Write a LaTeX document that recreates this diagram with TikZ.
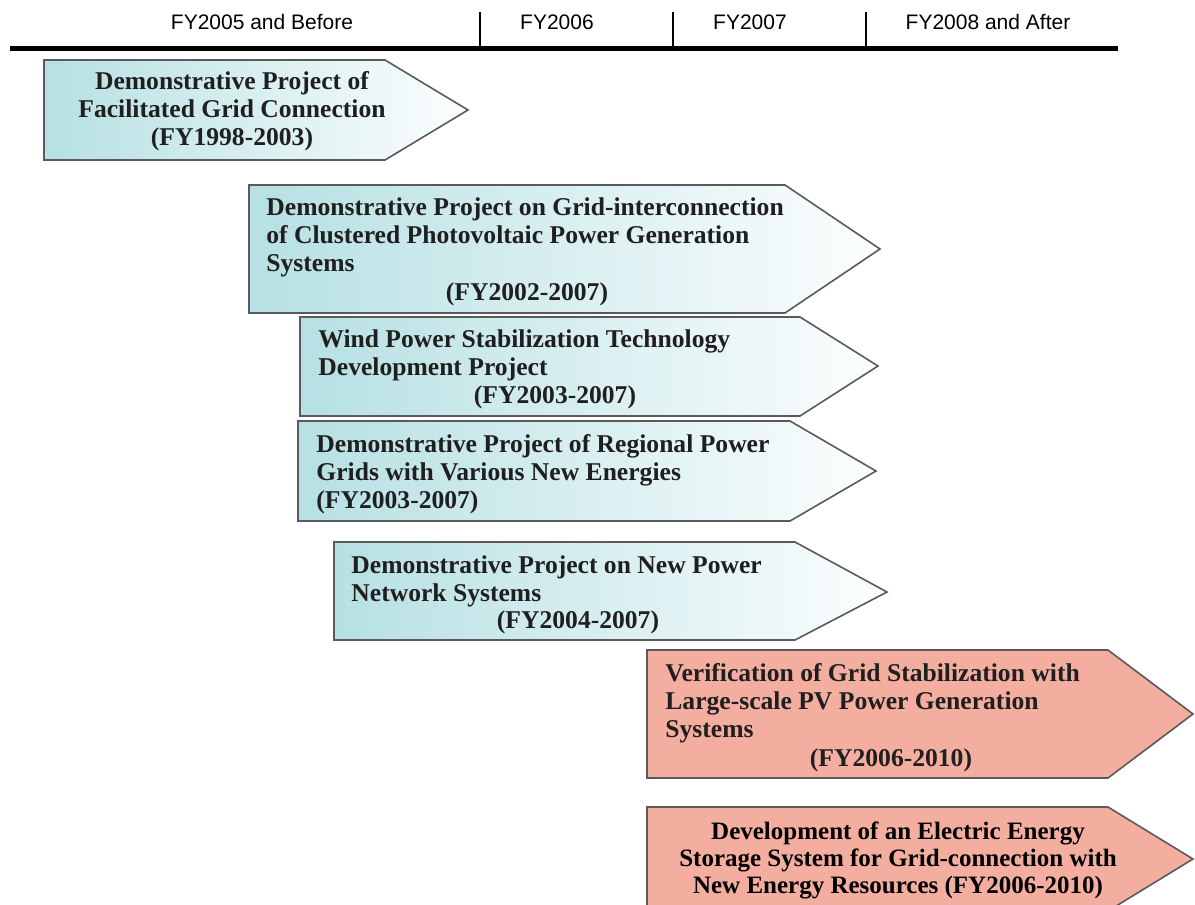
\documentclass[tikz,border=0pt]{standalone}
\usepackage{fontspec}
\setmainfont{Liberation Serif}
\newfontfamily\headfont{Liberation Sans}
\usepackage{tikz}
\definecolor{oldfill}{HTML}{B6E0E3}
\definecolor{newfill}{HTML}{F4AE9F}
\definecolor{edgegray}{HTML}{5A5A5A}
\tikzstyle{oldphase} = [draw=edgegray, line width=0.8pt, left color=oldfill, right color=white!96!oldfill]
\tikzstyle{newphase} = [draw=edgegray, line width=0.8pt, fill=newfill]
\tikzstyle{title} = [inner sep=0pt, font=\fontsize{12.8}{14}\selectfont\bfseries, text=black!88]
\tikzstyle{header} = [inner sep=0pt, font=\headfont\fontsize{10.5}{12}\selectfont]
\tikzstyle{tick} = [line width=0.6pt]

\begin{document}
\begin{tikzpicture}[x=0.5pt,y=-0.5pt]
\useasboundingbox (0,0) rectangle (1195,905);
% fiscal year header
\node (fy05) [header] at (262,22) {FY2005 and Before};
\node (fy06) [header] at (557,22) {FY2006};
\node (fy07) [header] at (750,22) {FY2007};
\node (fy08) [header] at (988,22) {FY2008 and After};
\draw [line width=2.5pt] (10,48) -- (1118,48);
\draw [tick] (480,12) -- (480,47);
\draw [tick] (673,12) -- (673,47);
\draw [tick] (866,12) -- (866,47);

% finished projects (base = last line)
\draw [oldphase] (44,60) -- (385,60) -- (468,110) -- (385,160) -- (44,160) -- cycle;
\node (facil) [title, anchor=base, align=center] at (232,145) {Demonstrative Project of\\Facilitated Grid Connection\\(FY1998-2003)};

\draw [oldphase] (249,185) -- (785,185) -- (880,249) -- (785,313) -- (249,313) -- cycle;
\node (cluster) [title, anchor=base west, align=left] at (266,271) {Demonstrative Project on Grid-interconnection\\of Clustered Photovoltaic Power Generation\\Systems};
\node (clusteryr) [title, anchor=base] at (527,300) {(FY2002-2007)};

\draw [oldphase] (300,317) -- (800,317) -- (878,366) -- (800,416) -- (300,416) -- cycle;
\node (wind) [title, anchor=base west, align=left] at (318,375) {Wind Power Stabilization Technology\\Development Project};
\node (windyr) [title, anchor=base] at (555,403) {(FY2003-2007)};

\draw [oldphase] (298,421) -- (790,421) -- (876,471) -- (790,521) -- (298,521) -- cycle;
\node (regional) [title, anchor=base west, align=left] at (316,508) {Demonstrative Project of Regional Power\\Grids with Various New Energies\\(FY2003-2007)};

\draw [oldphase] (334,542) -- (795,542) -- (887,592) -- (795,640) -- (334,640) -- cycle;
\node (network) [title, anchor=base west, align=left] at (351,601) {Demonstrative Project on New Power\\Network Systems};
\node (networkyr) [title, anchor=base] at (578,628) {(FY2004-2007)};

% new projects
\draw [newphase] (647,650) -- (1108,650) -- (1193,714) -- (1108,778) -- (647,778) -- cycle;
\node (verify) [title, anchor=base west, align=left] at (665,737) {Verification of Grid Stabilization with\\Large-scale PV Power Generation\\Systems};
\node (verifyyr) [title, anchor=base] at (891,766) {(FY2006-2010)};

\draw [newphase] (647,807) -- (1108,807) -- (1193,859) -- (1108,911) -- (647,911) -- cycle;
\node (storage) [title, anchor=base, align=center, text=black, font=\fontsize{12.5}{13.5}\selectfont\bfseries] at (898,893) {Development of an Electric Energy\\Storage System for Grid-connection with\\New Energy Resources (FY2006-2010)};
\end{tikzpicture}
\end{document}
